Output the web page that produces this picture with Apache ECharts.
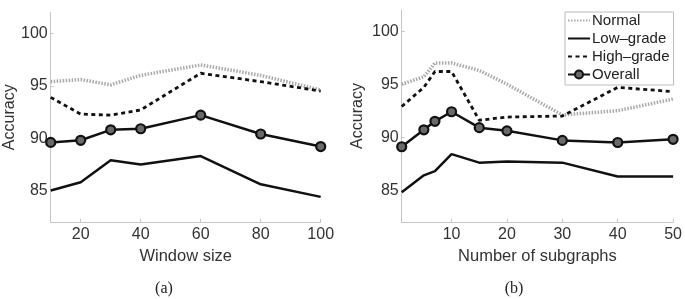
<!DOCTYPE html>
<html>
<head>
<meta charset="utf-8">
<script src="https://cdn.jsdelivr.net/npm/echarts@6/dist/echarts.min.js"></script>
<style>
  html, body { margin: 0; padding: 0; background: #fff; }
  #chart { width: 685px; height: 299px; }
</style>
</head>
<body>
<div id="chart"></div>
<script>
// (a) window size
var windowSizes = [10, 20, 30, 40, 60, 80, 100];
var normalA  = [95.4, 95.6, 95.1, 96.0, 97.0, 96.0, 94.6];
var lowA     = [85.0, 85.8, 87.9, 87.5, 88.3, 85.6, 84.4];
var highA    = [93.9, 92.3, 92.2, 92.7, 96.2, 95.4, 94.5];
var overallA = [89.6, 89.8, 90.8, 90.9, 92.2, 90.4, 89.2];

// (b) number of subgraphs
var subgraphs = [1, 5, 7, 10, 15, 20, 30, 40, 50];
var normalB  = [95.0, 95.7, 97.0, 97.0, 96.3, 95.0, 92.1, 92.5, 93.6];
var lowB     = [84.8, 86.4, 86.8, 88.4, 87.6, 87.7, 87.6, 86.3, 86.3];
var highB    = [92.9, 94.7, 96.2, 96.2, 91.6, 91.9, 92.0, 94.7, 94.3];
var overallB = [89.1, 90.7, 91.5, 92.4, 90.9, 90.6, 89.7, 89.5, 89.8];

// tick labels
var yTicks  = [85, 90, 95, 100];
var xTicksA = [20, 40, 60, 80, 100];
var xTicksB = [10, 20, 30, 40, 50];

var names = ['Normal', 'Low\u2013grade', 'High\u2013grade', 'Overall'];

var FONT = '"Liberation Sans", Arial, Helvetica, sans-serif';
var TXT = '#333';
var AX = '#c4c4c4';

function pairs(xs, ys) {
    var out = [];
    for (var i = 0; i < xs.length; i++) out.push([xs[i], ys[i]]);
    return out;
}

function xAxisOf(idx, name, min, max, ticks) {
    return {
        type: 'value', gridIndex: idx, min: min, max: max,
        name: name, nameLocation: 'middle', nameGap: 19,
        nameTextStyle: { color: TXT, fontSize: 16.5, fontFamily: FONT },
        axisLine: { show: true, lineStyle: { color: AX, width: 1 } },
        axisTick: { show: true, inside: true, length: 3, customValues: ticks, lineStyle: { color: AX } },
        axisLabel: { customValues: ticks, color: TXT, fontSize: 16, fontFamily: FONT, margin: 5 },
        splitLine: { show: false }
    };
}

function yAxisOf(idx, gap) {
    return {
        type: 'value', gridIndex: idx, min: 82, max: 102,
        name: 'Accuracy', nameLocation: 'middle', nameGap: gap,
        nameTextStyle: { color: TXT, fontSize: 16, fontFamily: FONT },
        axisLine: { show: true, lineStyle: { color: AX, width: 1 } },
        axisTick: { show: true, inside: true, length: 3, customValues: yTicks, lineStyle: { color: AX } },
        axisLabel: { customValues: yTicks, color: TXT, fontSize: 16, fontFamily: FONT, margin: 3 },
        splitLine: { show: false }
    };
}

// 4 series per panel, same styles on both sides
function panelSeries(idx, xs, nor, low, high, ov) {
    return [
        {
            name: names[0], type: 'line', xAxisIndex: idx, yAxisIndex: idx,
            data: pairs(xs, nor), showSymbol: false, symbol: 'none',
            lineStyle: { color: '#a9a9a9', width: 3.5, type: [1.5, 1.5] },
            itemStyle: { color: '#a9a9a9' }
        },
        {
            name: names[1], type: 'line', xAxisIndex: idx, yAxisIndex: idx,
            data: pairs(xs, low), showSymbol: false, symbol: 'none',
            lineStyle: { color: '#111', width: 2.5 },
            itemStyle: { color: '#111' }
        },
        {
            name: names[2], type: 'line', xAxisIndex: idx, yAxisIndex: idx,
            data: pairs(xs, high), showSymbol: false, symbol: 'none',
            lineStyle: { color: '#111', width: 2.8, type: [4, 3.5] },
            itemStyle: { color: '#111' }
        },
        {
            name: names[3], type: 'line', xAxisIndex: idx, yAxisIndex: idx,
            data: pairs(xs, ov), symbol: 'circle', symbolSize: 9,
            lineStyle: { color: '#111', width: 2.5 },
            itemStyle: { color: '#6a6a6a', borderColor: '#111', borderWidth: 2.2 }
        }
    ];
}

var chart = echarts.init(document.getElementById('chart'));

chart.setOption({
    animation: false,
    backgroundColor: '#fff',
    grid: [
        { left: 50.7, top: 12.5, width: 270, height: 209.5 },
        { left: 401.7, top: 10, width: 271.6, height: 212 }
    ],
    xAxis: [
        xAxisOf(0, 'Window size', 10, 100, xTicksA),
        xAxisOf(1, 'Number of subgraphs', 1, 50, xTicksB)
    ],
    yAxis: [
        yAxisOf(0, 33),
        yAxisOf(1, 36)
    ],
    legend: {
        // only the Overall entry keeps its marker
        data: [
            { name: names[0], itemStyle: { opacity: 0 } },
            { name: names[1], itemStyle: { opacity: 0 } },
            { name: names[2], itemStyle: { opacity: 0 } },
            { name: names[3] }
        ],
        orient: 'vertical', left: 565, top: 12,
        itemWidth: 22, itemHeight: 10, itemGap: 3,
        padding: [1, 4, 3, 2],
        backgroundColor: '#fff', borderColor: '#bbb', borderWidth: 1, borderRadius: 0,
        textStyle: { color: '#222', fontSize: 15, fontFamily: FONT, padding: [0, 0, 0, -3] }
    },
    graphic: [
        { type: 'text', x: 164, y: 289, style: { text: '(a)', align: 'center', verticalAlign: 'middle', fontSize: 16, fontFamily: '"Liberation Serif", "Times New Roman", serif', fill: '#222' } },
        { type: 'text', x: 514, y: 289, style: { text: '(b)', align: 'center', verticalAlign: 'middle', fontSize: 16, fontFamily: '"Liberation Serif", "Times New Roman", serif', fill: '#222' } }
    ],
    series: panelSeries(0, windowSizes, normalA, lowA, highA, overallA)
        .concat(panelSeries(1, subgraphs, normalB, lowB, highB, overallB))
});
</script>
</body>
</html>
